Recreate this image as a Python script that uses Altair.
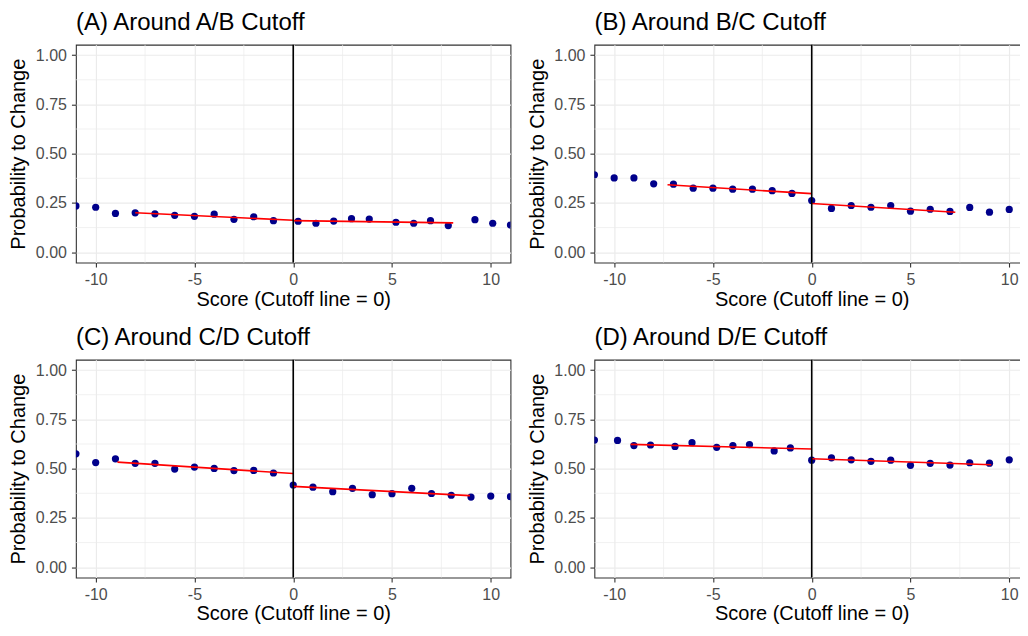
import altair as alt
import pandas as pd

FONT = "Liberation Sans"

titles = ["(A) Around A/B Cutoff", "(B) Around B/C Cutoff",
          "(C) Around C/D Cutoff", "(D) Around D/E Cutoff"]

# Panel A
a_x = [-11, -10, -9, -8, -7, -6, -5, -4, -3, -2, -1,
       0.25, 1.15, 2.05, 2.95, 3.85, 5.2, 6.1, 6.95, 7.85, 9.2, 10.1, 11]
a_y = [0.235, 0.228, 0.197, 0.200, 0.195, 0.187, 0.182, 0.193, 0.167, 0.180, 0.160,
       0.157, 0.147, 0.158, 0.170, 0.168, 0.152, 0.147, 0.160, 0.135, 0.165, 0.147, 0.138]
a_fit_x = [-8, 0, 0, 8.1]
a_fit_y = [0.200, 0.162, 0.160, 0.149]

# Panel B
b_x = [-11, -10, -9, -8, -7, -6, -5, -4, -3, -2, -1,
       0, 1, 2, 3, 4, 5, 6, 7, 8, 9, 10]
b_y = [0.393, 0.377, 0.377, 0.347, 0.345, 0.325, 0.325, 0.320, 0.320, 0.312, 0.298,
       0.262, 0.222, 0.237, 0.228, 0.237, 0.208, 0.218, 0.207, 0.227, 0.203, 0.217]
b_fit_x = [-7.3, 0, 0, 7.27]
b_fit_y = [0.342, 0.297, 0.247, 0.203]

# Panel C
c_x = [-11, -10, -9, -8, -7, -6, -5, -4, -3, -2, -1,
       0, 1, 2, 3, 4, 5, 6, 7, 8, 9, 10, 11]
c_y = [0.575, 0.531, 0.550, 0.527, 0.527, 0.498, 0.508, 0.501, 0.490, 0.491, 0.478,
       0.417, 0.406, 0.383, 0.400, 0.368, 0.373, 0.400, 0.374, 0.365, 0.356, 0.361, 0.358]
c_fit_x = [-8.9, 0, 0, 8.95]
c_fit_y = [0.533, 0.475, 0.410, 0.363]

# Panel D
d_x = [-11, -9.83, -9, -8.16, -6.92, -6.06, -4.81, -3.99, -3.15, -1.9, -1.08,
       0, 1, 2, 3, 4, 5, 6, 7, 8, 9, 10]
d_y = [0.645, 0.643, 0.617, 0.620, 0.613, 0.632, 0.608, 0.617, 0.622, 0.590, 0.605,
       0.543, 0.555, 0.545, 0.537, 0.543, 0.517, 0.527, 0.518, 0.530, 0.528, 0.545]
d_fit_x = [-9.17, 0, 0, 9.09]
d_fit_y = [0.623, 0.600, 0.550, 0.520]

fit_side = ["left", "left", "right", "right"]

x_major = [-10, -5, 0, 5, 10]
x_minor = [-7.5, -2.5, 2.5, 7.5]
y_major = [0, 0.25, 0.5, 0.75, 1.0]
y_minor = [0.125, 0.375, 0.625, 0.875]
cutoff = [0]

X_TITLE = "Score (Cutoff line = 0)"
Y_TITLE = "Probability to Change"

W, H = 435, 218


def xenc():
    return alt.X("x:Q",
                 scale=alt.Scale(domain=[-11, 11], nice=False, zero=False),
                 axis=alt.Axis(values=x_major, title=X_TITLE,
                               labelExpr="datum.value + ''", labelPadding=4,
                               titleY=42.5, titleBaseline="alphabetic"))


def yenc():
    return alt.Y("y:Q",
                 scale=alt.Scale(domain=[-0.0525, 1.0525], nice=False, zero=False),
                 axis=alt.Axis(values=y_major, title=Y_TITLE, format=".2f",
                               titleX=-51, titleBaseline="alphabetic"))


def panel(title, xs, ys, fx, fy):
    pts = pd.DataFrame({"x": xs, "y": ys})
    fit = pd.DataFrame({"x": fx, "y": fy, "side": fit_side})
    gx = pd.DataFrame({"x": x_minor})
    gy = pd.DataFrame({"y": y_minor})
    vl = pd.DataFrame({"x": cutoff})

    minor_x = alt.Chart(gx).mark_rule(color="#EBEBEB", strokeWidth=0.7).encode(x=xenc())
    minor_y = alt.Chart(gy).mark_rule(color="#EBEBEB", strokeWidth=0.7).encode(y=yenc())
    points = alt.Chart(pts).mark_circle(size=52, color="#00008B", opacity=1,
                                        clip=True).encode(x=xenc(), y=yenc())
    lines = alt.Chart(fit).mark_line(color="#FF0000", strokeWidth=1.6).encode(
        x=xenc(), y=yenc(), detail="side:N")
    vline = alt.Chart(vl).mark_rule(color="#000000", strokeWidth=1.6).encode(x=xenc())

    return alt.layer(minor_x, minor_y, points, lines, vline).properties(
        width=W, height=H,
        title=alt.TitleParams(text=title, anchor="start", frame="group",
                              fontSize=24, fontWeight="normal", font=FONT,
                              color="#000000", offset=8.5))


panels = [
    panel(titles[0], a_x, a_y, a_fit_x, a_fit_y),
    panel(titles[1], b_x, b_y, b_fit_x, b_fit_y),
    panel(titles[2], c_x, c_y, c_fit_x, c_fit_y),
    panel(titles[3], d_x, d_y, d_fit_x, d_fit_y),
]

chart = alt.ConcatChart(
    concat=panels, columns=2,
    spacing={"row": 97.3, "column": 84},
    bounds="flush",
).properties(
    padding={"left": 0, "top": 2.5, "right": -10, "bottom": 0},
    background="white",
).configure_view(
    stroke="#333333", strokeWidth=1.1
).configure_axis(
    domain=False,
    grid=True, gridColor="#EBEBEB", gridWidth=1.2,
    tickColor="#333333", tickSize=4.5, tickWidth=1.1,
    labelFont=FONT, labelFontSize=16, labelColor="#4D4D4D", labelPadding=5,
    titleFont=FONT, titleFontSize=20, titleFontWeight="normal", titleColor="#000000",
)

chart.save("out.html", embed_options={"renderer": "svg", "actions": False})
